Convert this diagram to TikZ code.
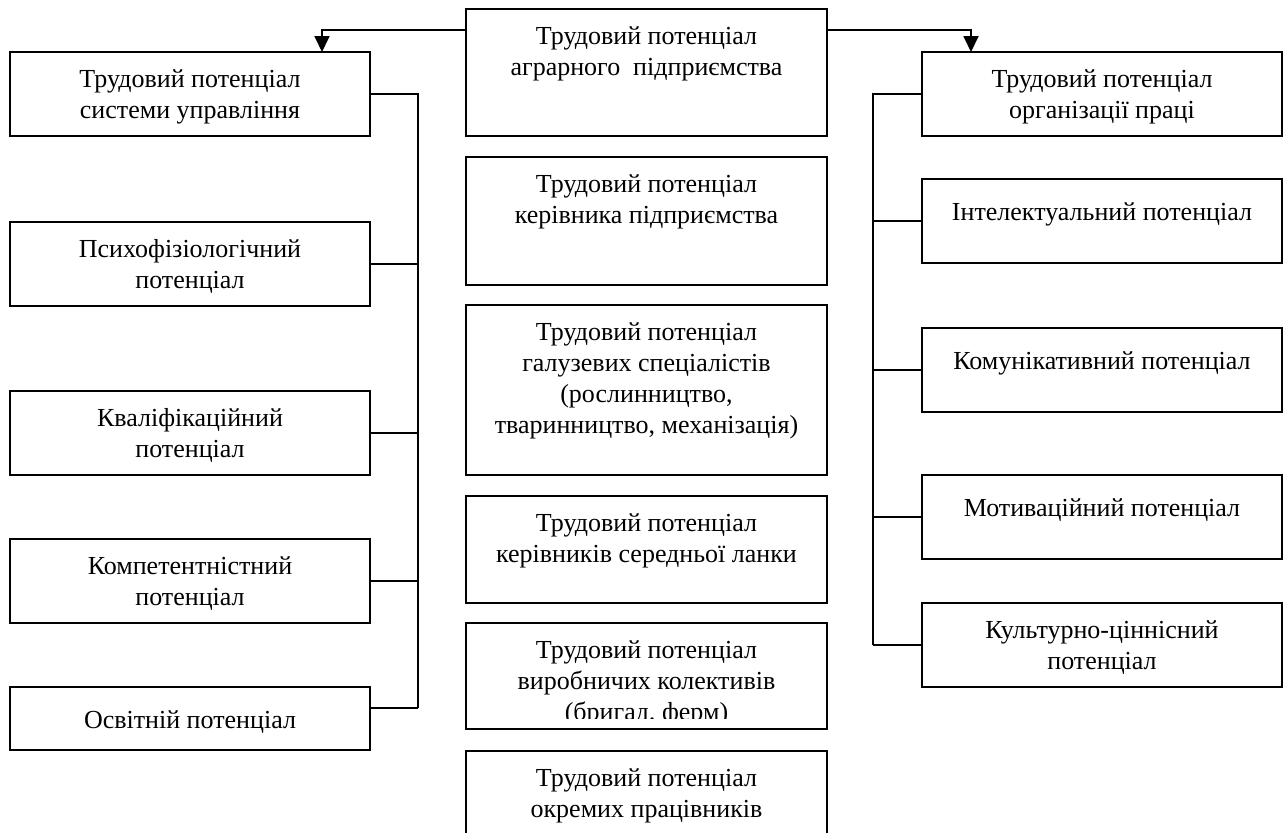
\documentclass[tikz,border=0pt]{standalone}
\usepackage{fontspec}
\setmainfont{Liberation Serif}
\usetikzlibrary{arrows.meta}
\begin{document}
\begin{tikzpicture}[x=0.5pt,y=-0.5pt,
  box/.style={draw, line width=0.9pt, inner sep=0pt, outer sep=0pt, rectangle},
  lbox/.style={box, minimum width=180pt},
  cbox/.style={box, minimum width=180.5pt},
  txt/.style={align=center, inner sep=0pt, anchor=north, font={\fontsize{13}{15.5}\selectfont},
    execute at begin node={\rule{0pt}{12pt}}},
  conn/.style={line width=0.9pt},
  arr/.style={line width=0.9pt, -{Triangle[length=8pt,width=7.5pt]}}]
\useasboundingbox (0,0) rectangle (1286,832);

% left column
\node[lbox, minimum height=42pt] (l1) at (190,94) {};
\node[lbox, minimum height=42pt] (l2) at (190,264) {};
\node[lbox, minimum height=42pt] (l3) at (190,433) {};
\node[lbox, minimum height=42pt] (l4) at (190,581) {};
\node[lbox, minimum height=31.5pt] (l5) at (190,718.5) {};
\node[txt] (tl1) at ([yshift=-8.5pt]l1.north) {Трудовий потенціал\\системи управління};
\node[txt] (tl2) at ([yshift=-8.5pt]l2.north) {Психофізіологічний\\потенціал};
\node[txt] (tl3) at ([yshift=-8.5pt]l3.north) {Кваліфікаційний\\потенціал};
\node[txt] (tl4) at ([yshift=-8.5pt]l4.north) {Компетентністний\\потенціал};
\node[txt] (tl5) at ([yshift=-8.5pt]l5.north) {Освітній потенціал};

% centre column
\node[cbox, minimum height=63.5pt] (a) at (646.5,72.5) {};
\node[cbox, minimum height=64pt] (b) at (646.5,221) {};
\node[cbox, minimum height=85pt] (c) at (646.5,390) {};
\node[cbox, minimum height=53.5pt] (d) at (646.5,549.5) {};
\node[cbox, minimum height=53pt] (e) at (646.5,676) {};
\node[cbox, minimum height=49.5pt] (f) at (646.5,800.5) {};
\node[txt] (ta) at ([yshift=-8.5pt]a.north) {Трудовий потенціал\\аграрного~~підприємства};
\node[txt] (tb) at ([yshift=-8.5pt]b.north) {Трудовий потенціал\\керівника підприємства};
\node[txt] (tc) at ([yshift=-8.5pt]c.north) {Трудовий потенціал\\галузевих спеціалістів\\(рослинництво,\\тваринництво, механізація)};
\node[txt] (td) at ([yshift=-8.5pt]d.north) {Трудовий потенціал\\керівників середньої ланки};
\begin{scope}
  \clip (e.north west) rectangle ([yshift=5.5pt]e.south east);
  \node[txt] (te) at ([yshift=-8.5pt]e.north) {Трудовий потенціал\\виробничих колективів\\(бригад, ферм)};
\end{scope}
\node[txt] (tf) at ([yshift=-8.5pt]f.north) {Трудовий потенціал\\окремих працівників};

% right column
\node[lbox, minimum height=42pt] (r1) at (1102,94) {};
\node[lbox, minimum height=42pt] (r2) at (1102,221) {};
\node[lbox, minimum height=42pt] (r3) at (1102,370) {};
\node[lbox, minimum height=42pt] (r4) at (1102,517) {};
\node[lbox, minimum height=42pt] (r5) at (1102,645) {};
\node[txt] (tr1) at ([yshift=-8.5pt]r1.north) {Трудовий потенціал\\організації праці};
\node[txt] (tr2) at ([yshift=-8.5pt]r2.north) {Інтелектуальний потенціал};
\node[txt] (tr3) at ([yshift=-8.5pt]r3.north) {Комунікативний потенціал};
\node[txt] (tr4) at ([yshift=-8.5pt]r4.north) {Мотиваційний потенціал};
\node[txt] (tr5) at ([yshift=-8.5pt]r5.north) {Культурно-ціннісний\\потенціал};

% left spine
\coordinate (sl) at (418,94);
\coordinate (sle) at (418,708);
\draw[conn] (l1.east) -- (sl) -- (sle);
\draw[conn] (l2.east) -- (l2.east -| sl);
\draw[conn] (l3.east) -- (l3.east -| sl);
\draw[conn] (l4.east) -- (l4.east -| sl);
\draw[conn] ([yshift=5.25pt]l5.east) -- (sle);

% right spine
\coordinate (sr) at (873,94);
\coordinate (sre) at (873,645);
\draw[conn] (r1.west) -- (sr) -- (sre);
\draw[conn] (r2.west) -- (r2.west -| sr);
\draw[conn] (r3.west) -- (r3.west -| sr);
\draw[conn] (r4.west) -- (r4.west -| sr);
\draw[conn] (r5.west) -- (sre);

% arrows from the top box
\coordinate (al) at (322,30);
\coordinate (ar) at (971,30);
\draw[arr] (a.west |- al) -- (al) -- (al |- l1.north);
\draw[arr] (a.east |- ar) -- (ar) -- (ar |- r1.north);
\end{tikzpicture}
\end{document}
